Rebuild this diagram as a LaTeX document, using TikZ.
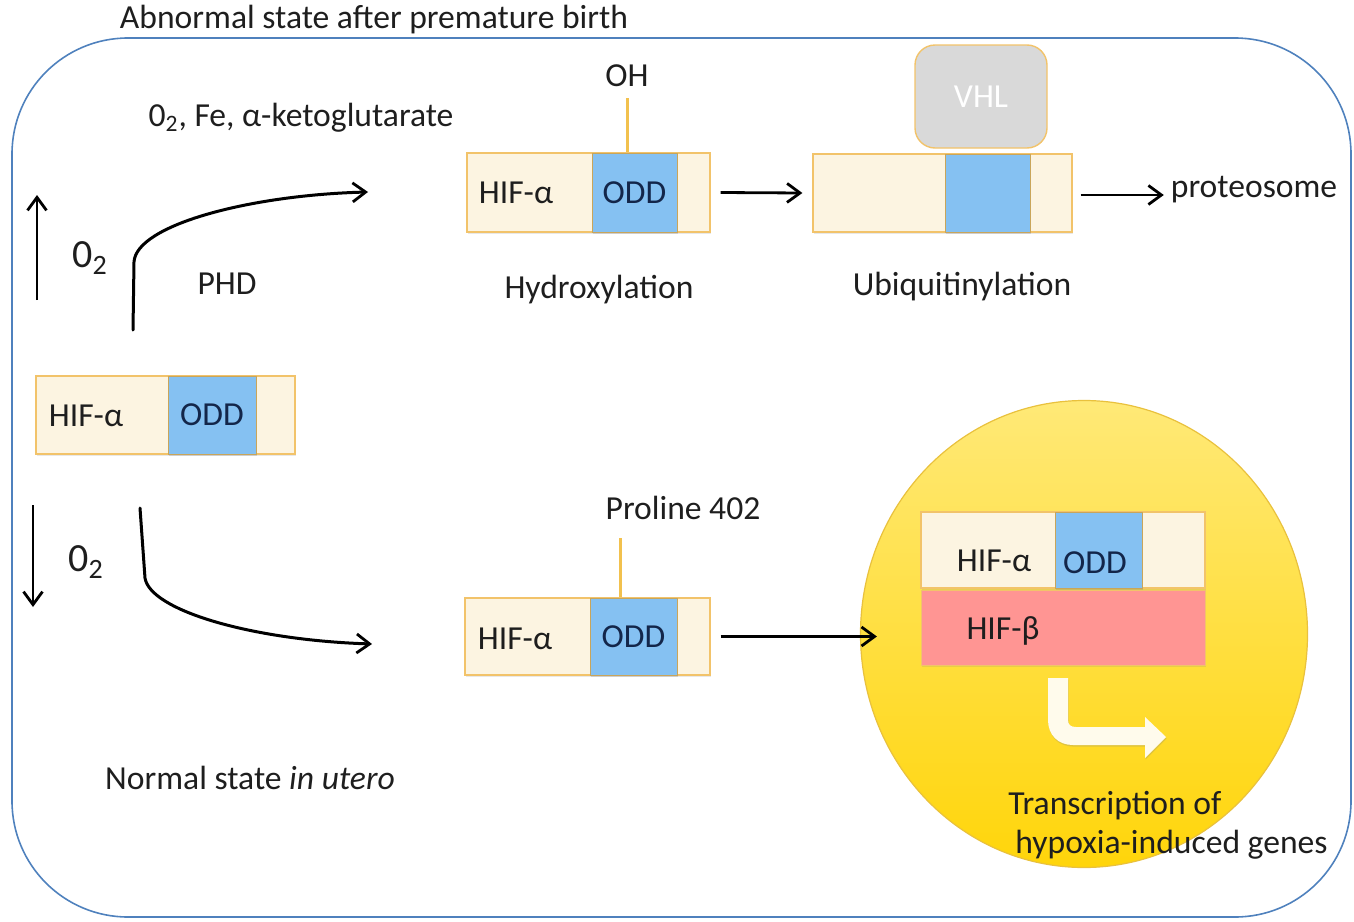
\documentclass[tikz,border=0pt]{standalone}
\usepackage{fontspec}
\setmainfont{Carlito}
\usetikzlibrary{arrows.meta,shapes.geometric,shadows}
\definecolor{framec}{HTML}{4F81BD}
\definecolor{cream}{HTML}{FCF4E1}
\definecolor{boxedge}{HTML}{F2C36A}
\definecolor{oddblue}{HTML}{85C1F2}
\definecolor{oddedge}{HTML}{C9A55A}
\definecolor{vhlfill}{HTML}{D9D9D9}
\definecolor{betafill}{HTML}{FF9593}
\definecolor{stubc}{HTML}{F2C14E}
\definecolor{txt}{HTML}{1E1E1E}
\definecolor{oddtxt}{HTML}{13264A}
\definecolor{circtop}{HTML}{FFE977}
\definecolor{circbot}{HTML}{FFD50A}
\definecolor{circedge}{HTML}{E9C13D}
\definecolor{bendc}{HTML}{FFFBEC}
\begin{document}
\begin{tikzpicture}[x=0.5pt,y=-0.5pt,
  every node/.style={font=\fontsize{16.8}{19}\selectfont, text=txt},
  big/.style={font=\fontsize{20}{23}\selectfont},
  hifbox/.style={draw=boxedge, fill=cream, line width=0.6pt, inner sep=0pt,
     drop shadow={shadow xshift=0.4pt, shadow yshift=-1pt, opacity=0.18}},
  oddbox/.style={draw=oddedge, fill=oddblue, line width=0.5pt, inner sep=0pt, text=oddtxt,
     drop shadow={shadow xshift=0.4pt, shadow yshift=-1pt, opacity=0.25}},
  arr/.style={-{Straight Barb[length=6.5pt,width=9.5pt,line width=1.4pt]}, line width=1.4pt, black},
  curvearr/.style={-{Straight Barb[length=6.5pt,width=9.5pt,line width=1.4pt]}, line width=1.5pt, black, line cap=round},
  stub/.style={draw=stubc, line width=1.5pt}
]
\useasboundingbox (0,0) rectangle (1354,921);

% frame
\draw[framec, line width=0.8pt, rounded corners=58pt] (12,38) rectangle (1351,917);

% titles
\node (title) at (374,20) {Abnormal state after premature birth};
\node (cond) at (301,118) {0\textsubscript{2}, Fe, α-ketoglutarate};
\node (normal) at (250,778) {Normal state \textit{in utero}};

% O2 arrows
\coordinate (upS) at (37,300); \coordinate (upE) at (37,195);
\draw[arr] (upS) -- (upE);
\node[big] (o2up) at (90,258) {0\textsubscript{2}};
\coordinate (dnS) at (33,505); \coordinate (dnE) at (33,607);
\draw[arr] (dnS) -- (dnE);
\node[big] (o2dn) at (86,562) {0\textsubscript{2}};

% left HIF box
\node[hifbox, minimum width=129.5pt, minimum height=39pt] (b1) at (165.5,415) {};
\node[oddbox, minimum width=44pt, minimum height=39pt] (b1odd) at (212,415) {ODD};
\node (b1l) at (86,416) {HIF-α};

% PHD curve
\coordinate (phdS) at (133,330);
\coordinate (phdE) at (368,192);
\draw[curvearr] (phdS) -- (134,262) .. controls (136,225) and (250,195) .. (phdE);
\node (phd) at (227,284) {PHD};

% lower curve
\coordinate (loS) at (140,508);
\coordinate (loE) at (372,644);
\draw[curvearr] (loS) -- (145,578) .. controls (150,610) and (250,640) .. (loE);

% hydroxylation
\node[hifbox, minimum width=121.5pt, minimum height=39.5pt] (b2) at (588.5,192.5) {};
\node[oddbox, minimum width=42.5pt, minimum height=39.5pt] (b2odd) at (634.5,192.5) {ODD};
\node (b2l) at (516,193) {HIF-α};
\node (oh) at (627,76) {OH};
\coordinate (ohS) at (627,98);
\draw[stub] (ohS) -- (ohS |- b2.north);
\node (hyd) at (599,290) {Hydroxylation};

% ubiquitinylation
\node[hifbox, minimum width=129.5pt, minimum height=39pt] (b3) at (942.5,193) {};
\node[oddbox, minimum width=42.5pt, minimum height=39pt] (b3odd) at (987.5,193) {};
\node[draw=boxedge, fill=vhlfill, line width=0.7pt, rounded corners=10pt,
      minimum width=66pt, minimum height=51.5pt, text=white] (vhl) at (981,96.5) {VHL};
\node (ubi) at (962,287) {Ubiquitinylation};
\node (prot) at (1254,190) {proteosome};

\draw[arr] ([xshift=5pt]b2.east) -- ([xshift=-5pt]b3.west);
\coordinate (protIn) at ([yshift=-1pt]b3.east -| prot.west);
\draw[arr] ([xshift=4pt,yshift=-1pt]b3.east) -- (protIn);

% bottom row
\node[hifbox, minimum width=122.5pt, minimum height=38.5pt] (b4) at (587.5,636.5) {};
\node[oddbox, minimum width=43.5pt, minimum height=38.5pt] (b4odd) at (633.5,636.5) {ODD};
\node (b4l) at (515,639) {HIF-α};
\node (pro) at (683,508) {Proline 402};
\coordinate (proS) at (620,538);
\draw[stub] (proS) -- (proS |- b4.north);

% nucleus circle
\node[ellipse, draw=circedge, line width=0.6pt, top color=circtop, bottom color=circbot,
      minimum width=223.5pt, minimum height=233.5pt, inner sep=0pt] (circ) at (1084,634) {};
\coordinate (circIn) at ([xshift=8.5pt]b4.east -| circ.west);
\draw[arr] ([xshift=5pt]b4.east) -- (circIn);

\node[hifbox, minimum width=142pt, minimum height=38pt] (c1) at (1063,550) {};
\node[oddbox, minimum width=43.5pt, minimum height=38pt] (c1odd) at (1098.5,550) {};
\node[text=oddtxt] (c1oddl) at (1095,563) {ODD};
\node (c1l) at (994,561) {HIF-α};
\node[draw=boxedge, fill=betafill, line width=0.5pt, inner sep=0pt,
      minimum width=142pt, minimum height=37.5pt,
      drop shadow={shadow xshift=0.4pt, shadow yshift=-1pt, opacity=0.18}] (c2) at (1063,627.5) {};
\node (c2l) at (1003,631) {HIF-β};

% bent arrow
\fill[bendc, drop shadow={shadow xshift=0.3pt, shadow yshift=-0.8pt, opacity=0.25}]
  (1048,678) -- (1048,720) .. controls (1048,735) and (1058,745) .. (1073,745)
  -- (1145,745) -- (1145,758) -- (1166,737) -- (1145,717) -- (1145,727)
  -- (1076,727) .. controls (1071,727) and (1068,725) .. (1068,720) -- (1068,678) -- cycle;

\node[anchor=west, inner sep=0pt] (tr1) at (1008,806) {Transcription of};
\node[anchor=west, inner sep=0pt] (tr2) at (1015,845) {hypoxia-induced genes};
\end{tikzpicture}
\end{document}
